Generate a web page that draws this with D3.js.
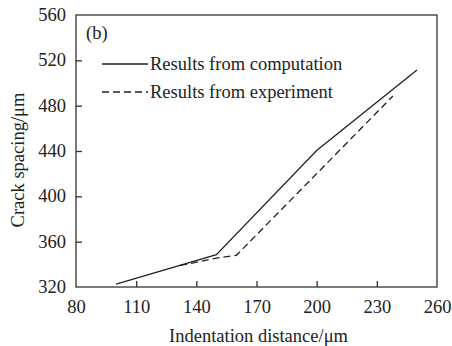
<!DOCTYPE html>
<html>
<head>
<meta charset="utf-8">
<script src="https://cdn.jsdelivr.net/npm/d3@7"></script>
<style>
  body { margin: 0; background: #fff; }
  svg { display: block; }
  text { font-family: "Liberation Serif", "Times New Roman", serif; fill: #222; }
</style>
</head>
<body>
<div id="chart"></div>
<script>
// data
const computationX = [100, 150, 200, 250];
const computationY = [322.5, 348.5, 440.5, 511.5];
const experimentX = [132, 150, 160, 200, 238];
const experimentY = [339, 345.5, 348, 420, 488.5];
const xTicks = [80, 110, 140, 170, 200, 230, 260];
const yTicks = [320, 360, 400, 440, 480, 520, 560];
const legendLabels = ["Results from computation", "Results from experiment"];

const width = 452, height = 346;
const margin = { top: 15, right: 15, bottom: 59, left: 76 };
const plotW = width - margin.left - margin.right;
const plotH = height - margin.top - margin.bottom;
const fontSize = "18.5px";

const svg = d3.select("#chart").append("svg")
    .attr("width", width)
    .attr("height", height);

const g = svg.append("g")
    .attr("transform", `translate(${margin.left},${margin.top})`);

const x = d3.scaleLinear().domain([80, 260]).range([0, plotW]);
const y = d3.scaleLinear().domain([320, 560]).range([plotH, 0]);

// frame
g.append("rect")
    .attr("width", plotW)
    .attr("height", plotH)
    .attr("fill", "none")
    .attr("stroke", "#333")
    .attr("stroke-width", 1.3);

// axes, ticks pointing inward
const xAxis = g.append("g")
    .attr("transform", `translate(0,${plotH})`)
    .call(d3.axisBottom(x).tickValues(xTicks).tickSize(-6).tickPadding(13));
const yAxis = g.append("g")
    .call(d3.axisLeft(y).tickValues(yTicks).tickSize(-6).tickPadding(10));

[xAxis, yAxis].forEach(a => {
    a.select(".domain").remove();
    a.selectAll("line").attr("stroke", "#333").attr("stroke-width", 1.3);
    a.selectAll("text")
        .style("font-family", '"Liberation Serif", serif')
        .style("font-size", fontSize)
        .attr("fill", "#222");
});
// end ticks sit on the frame, hide them like the reference
xAxis.selectAll(".tick").filter(d => d === 80 || d === 260).select("line").remove();
yAxis.selectAll(".tick").filter(d => d === 320 || d === 560).select("line").remove();
yAxis.selectAll("text").attr("dy", "0.3em");

const line = d3.line().x(d => x(d[0])).y(d => y(d[1]));

const compData = computationX.map((v, i) => [v, computationY[i]]);
const expData = experimentX.map((v, i) => [v, experimentY[i]]);

g.append("path")
    .datum(expData)
    .attr("d", line)
    .attr("fill", "none")
    .attr("stroke", "#222")
    .attr("stroke-width", 1.3)
    .attr("stroke-dasharray", "7,4");

g.append("path")
    .datum(compData)
    .attr("d", line)
    .attr("fill", "none")
    .attr("stroke", "#222")
    .attr("stroke-width", 1.3);

// panel label
g.append("text")
    .attr("x", 10)
    .attr("y", 24)
    .style("font-size", fontSize)
    .text("(b)");

// legend
const legend = g.append("g").attr("transform", "translate(26,49)");
legendLabels.forEach((label, i) => {
    const row = legend.append("g").attr("transform", `translate(0,${i * 28})`);
    row.append("line")
        .attr("x1", 0).attr("x2", 46)
        .attr("y1", 0).attr("y2", 0)
        .attr("stroke", "#222")
        .attr("stroke-width", 1.3)
        .attr("stroke-dasharray", i === 0 ? null : "7,4");
    row.append("text")
        .attr("x", 48)
        .attr("y", 0)
        .attr("dy", "0.32em")
        .style("font-size", fontSize)
        .text(label);
});

// axis titles
svg.append("text")
    .attr("x", margin.left + plotW / 2 + 2)
    .attr("y", 342)
    .attr("text-anchor", "middle")
    .style("font-size", fontSize)
    .text("Indentation distance/μm");

svg.append("text")
    .attr("transform", `translate(24,160) rotate(-90)`)
    .attr("text-anchor", "middle")
    .style("font-size", fontSize)
    .text("Crack spacing/μm");
</script>
</body>
</html>
